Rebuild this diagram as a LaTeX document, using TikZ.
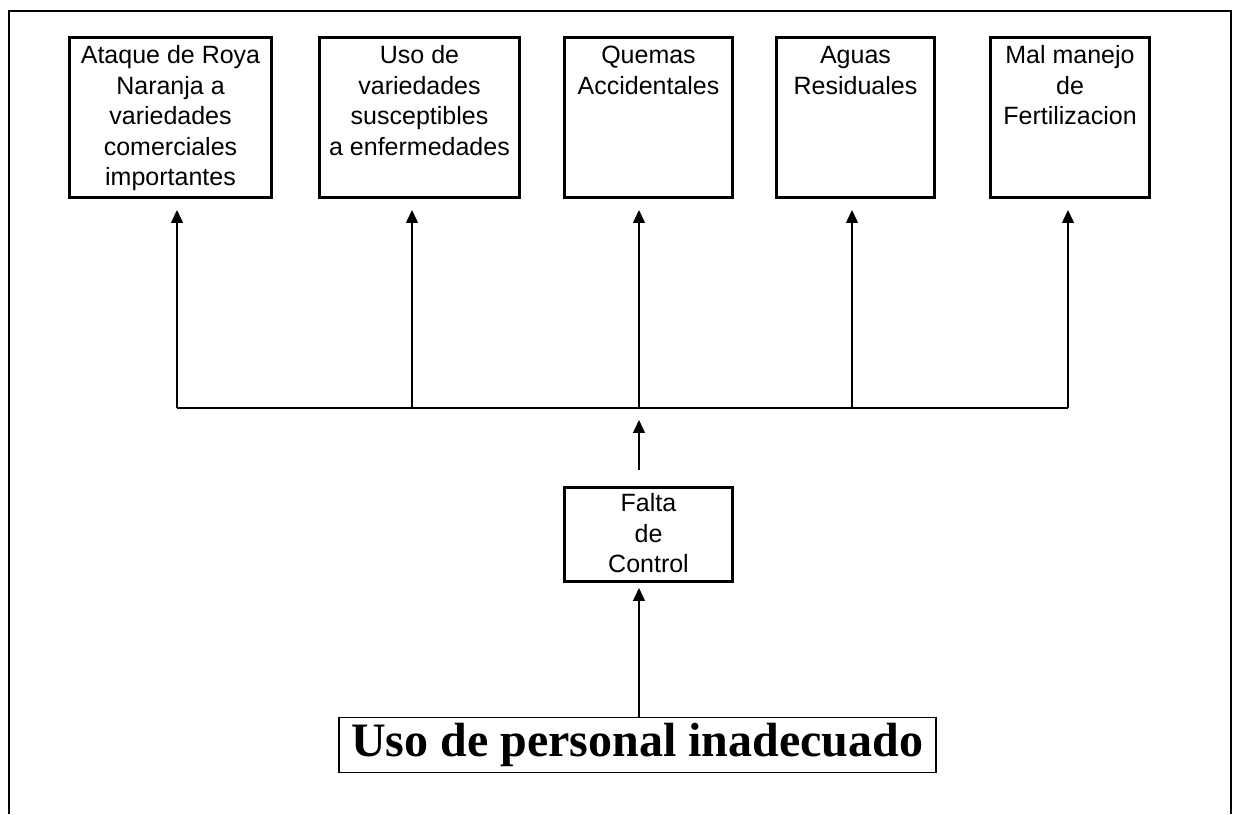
\documentclass[tikz,border=0pt]{standalone}
\usepackage{fontspec}
\setmainfont{Liberation Serif}
\newfontfamily\arialfont{Liberation Sans}
\usetikzlibrary{positioning,arrows.meta}
\begin{document}
\begin{tikzpicture}[x=1pt,y=1pt]
    \tikzstyle{block} = [rectangle, draw, align=center, line width=3pt, inner xsep=0pt, inner ysep=4pt,
        font={\arialfont\fontsize{25}{30.5}\selectfont}]
    \tikzstyle{small} = [block, inner ysep=2pt]
    \tikzstyle{title} = [rectangle, draw, line width=1.5pt, minimum width=597pt, minimum height=54.5pt,
        inner sep=0pt, font={\bfseries\fontsize{48}{52}\selectfont}]
    \tikzstyle{line} = [line width=1.5pt]
    \tikzstyle{arr} = [-{Triangle[width=12pt,length=13pt]}, line width=1.5pt]
    \useasboundingbox (0,0) rectangle (1234,814);
    \draw[line width=2.5pt] (9,0) -- (9,803) -- (1231,803) -- (1231,0);

    \node [block, anchor=north west, minimum width=202pt, text height=144.5pt, text depth=7.5pt] (roya) at (68,778)
        {Ataque de Roya\\Naranja a\\variedades\\comerciales\\importantes};
    \node [block, right=45pt of roya, minimum width=200pt, text height=114pt, text depth=38pt] (varieties)
        {Uso de\\variedades\\susceptibles\\a enfermedades};
    \node [block, right=42pt of varieties, minimum width=168pt, text height=53pt, text depth=99pt] (burning)
        {Quemas\\Accidentales};
    \node [block, right=41pt of burning, minimum width=158pt, text height=53pt, text depth=99pt] (water)
        {Aguas\\Residuales};
    \node [block, right=53pt of water, minimum width=159pt, text height=83.5pt, text depth=68.5pt] (fertilization)
        {Mal manejo\\de\\Fertilizacion};
    \node [small, anchor=north west, minimum width=168pt, text height=83.5pt, text depth=6.5pt] (control) at (563,328)
        {Falta\\de\\Control};
    \node [title, anchor=north west] (staff) at (338,97) {Uso de personal inadecuado};

    \coordinate (j1) at (177,406);
    \coordinate (j2) at (412,406);
    \coordinate (hub) at (639,406);
    \coordinate (j4) at (852,406);
    \coordinate (j5) at (1068,406);

    \draw[line] (j1) -- (j5);
    \draw[arr, shorten >=11pt] (j1) -- (j1 |- roya.south);
    \draw[arr, shorten >=11pt] (j2) -- (j2 |- varieties.south);
    \draw[arr, shorten >=11pt] (hub) -- (hub |- burning.south);
    \draw[arr, shorten >=11pt] (j4) -- (j4 |- water.south);
    \draw[arr, shorten >=11pt] (j5) -- (j5 |- fertilization.south);
    \draw[arr, shorten <=16pt, shorten >=12pt] (hub |- control.north) -- (hub);
    \draw[arr, shorten >=5pt] (hub |- staff.north) -- (hub |- control.south);
\end{tikzpicture}
\end{document}
